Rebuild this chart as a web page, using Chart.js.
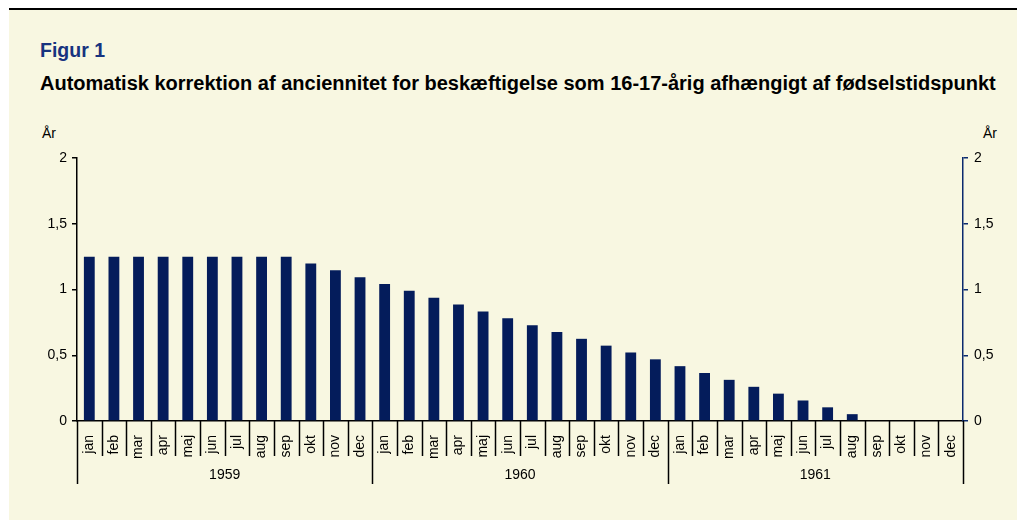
<!DOCTYPE html>
<html>
<head>
<meta charset="utf-8">
<script src="https://cdn.jsdelivr.net/npm/chart.js@4"></script>
<style>
  html, body { margin:0; padding:0; background:#fff; }
  #wrap { position:relative; width:1017px; height:520px; overflow:hidden; background:#fff; }
  #panel { position:absolute; left:9px; top:10px; width:1008px; height:510px; background:#F8F7E1; }
  #topline { position:absolute; left:9px; top:8px; width:1008px; height:2px; background:#000; }
  .t { position:absolute; font-family:"Liberation Sans", Arial, sans-serif; white-space:nowrap; line-height:1; }
  #fig { left:40px; top:41px; font-size:19.5px; font-weight:bold; color:#17337F; }
  #sub { left:40px; top:73px; font-size:20px; font-weight:bold; color:#000; }
  #arL { left:42px; top:126px; font-size:14px; color:#000; }
  #arR { left:983px; top:126px; font-size:14px; color:#000; }
  canvas { position:absolute; left:0; top:0; }
</style>
</head>
<body>
<div id="wrap">
  <div id="panel"></div>
  <div id="topline"></div>
  <div class="t" id="fig">Figur 1</div>
  <div class="t" id="sub">Automatisk korrektion af anciennitet for beskæftigelse som 16-17-årig afhængigt af fødselstidspunkt</div>
  <div class="t" id="arL">År</div>
  <div class="t" id="arR">År</div>
  <canvas id="c" width="1017" height="520"></canvas>
</div>
<script>
const months = ['jan','feb','mar','apr','maj','jun','jul','aug','sep','okt','nov','dec'];
const years = ['1959','1960','1961'];
const values1959 = [1.25,1.25,1.25,1.25,1.25,1.25,1.25,1.25,1.25,1.198,1.146,1.094];
const values1960 = [1.042,0.990,0.938,0.885,0.833,0.781,0.729,0.677,0.625,0.573,0.521,0.469];
const values1961 = [0.417,0.365,0.313,0.260,0.208,0.156,0.104,0.052,0,0,0,0];
const yTicks = [0,0.5,1,1.5,2];

const labels = [];
years.forEach(() => months.forEach(m => labels.push(m)));
const data = values1959.concat(values1960, values1961);

const FONT = '"Liberation Sans", Arial, sans-serif';
const fmt = v => String(v).replace('.', ',');

const groupPlugin = {
  id: 'groups',
  afterDraw(chart) {
    const ctx = chart.ctx;
    const xs = chart.scales.x;
    const y0 = chart.chartArea.bottom;
    const n = labels.length;
    ctx.save();
    ctx.strokeStyle = '#000';
    ctx.lineWidth = 1.5;
    for (let i = 0; i <= n; i++) {
      const x = Math.round(xs.getPixelForValue(i - 0.5)) + 0.5;
      const isYear = i % months.length === 0;
      ctx.beginPath();
      ctx.moveTo(x, y0);
      ctx.lineTo(x, isYear ? y0 + 63 : y0 + 35);
      ctx.stroke();
    }
    ctx.fillStyle = '#000';
    ctx.font = '14px ' + FONT;
    ctx.textAlign = 'center';
    ctx.textBaseline = 'middle';
    years.forEach((yr, k) => {
      const a = xs.getPixelForValue(k * months.length - 0.5);
      const b = xs.getPixelForValue((k + 1) * months.length - 0.5);
      ctx.fillText(yr, (a + b) / 2, y0 + 54);
    });
    ctx.restore();
  }
};

new Chart(document.getElementById('c'), {
  type: 'bar',
  data: {
    labels: labels,
    datasets: [{
      data: data,
      backgroundColor: '#041C5B',
      borderWidth: 0,
      barPercentage: 0.44,
      categoryPercentage: 1.0,
      yAxisID: 'y'
    }]
  },
  options: {
    responsive: false,
    animation: false,
    devicePixelRatio: 1,
    layout: { padding: { top: 158, left: 0, right: 0, bottom: 0 } },
    plugins: { legend: { display: false }, tooltip: { enabled: false }, title: { display: false } },
    scales: {
      x: {
        type: 'category',
        offset: true,
        grid: { display: false },
        border: { display: true, color: '#000', width: 1.5 },
        ticks: {
          autoSkip: false, minRotation: 90, maxRotation: 90, padding: 6,
          color: '#000', font: { family: FONT, size: 14 }
        },
        afterFit(s) { s.height = 99; }
      },
      y: {
        position: 'left',
        min: 0, max: 2,
        afterBuildTicks(s) { s.ticks = yTicks.map(v => ({ value: v })); },
        grid: { drawOnChartArea: false, drawTicks: true, tickLength: 5, color: '#000', lineWidth: 1.5 },
        border: { display: true, color: '#000', width: 1.5 },
        ticks: { color: '#000', padding: 5, font: { family: FONT, size: 14 }, callback: v => fmt(v) },
        afterFit(s) { s.width = 77; }
      },
      y2: {
        position: 'right',
        min: 0, max: 2,
        afterBuildTicks(s) { s.ticks = yTicks.map(v => ({ value: v })); },
        grid: { drawOnChartArea: false, drawTicks: true, tickLength: 5, color: '#0B2A6E', lineWidth: 1.5 },
        border: { display: true, color: '#0B2A6E', width: 1.5 },
        ticks: { color: '#000', padding: 6, font: { family: FONT, size: 14 }, callback: v => fmt(v) },
        afterFit(s) { s.width = 54; }
      }
    }
  },
  plugins: [groupPlugin]
});
</script>
</body>
</html>
